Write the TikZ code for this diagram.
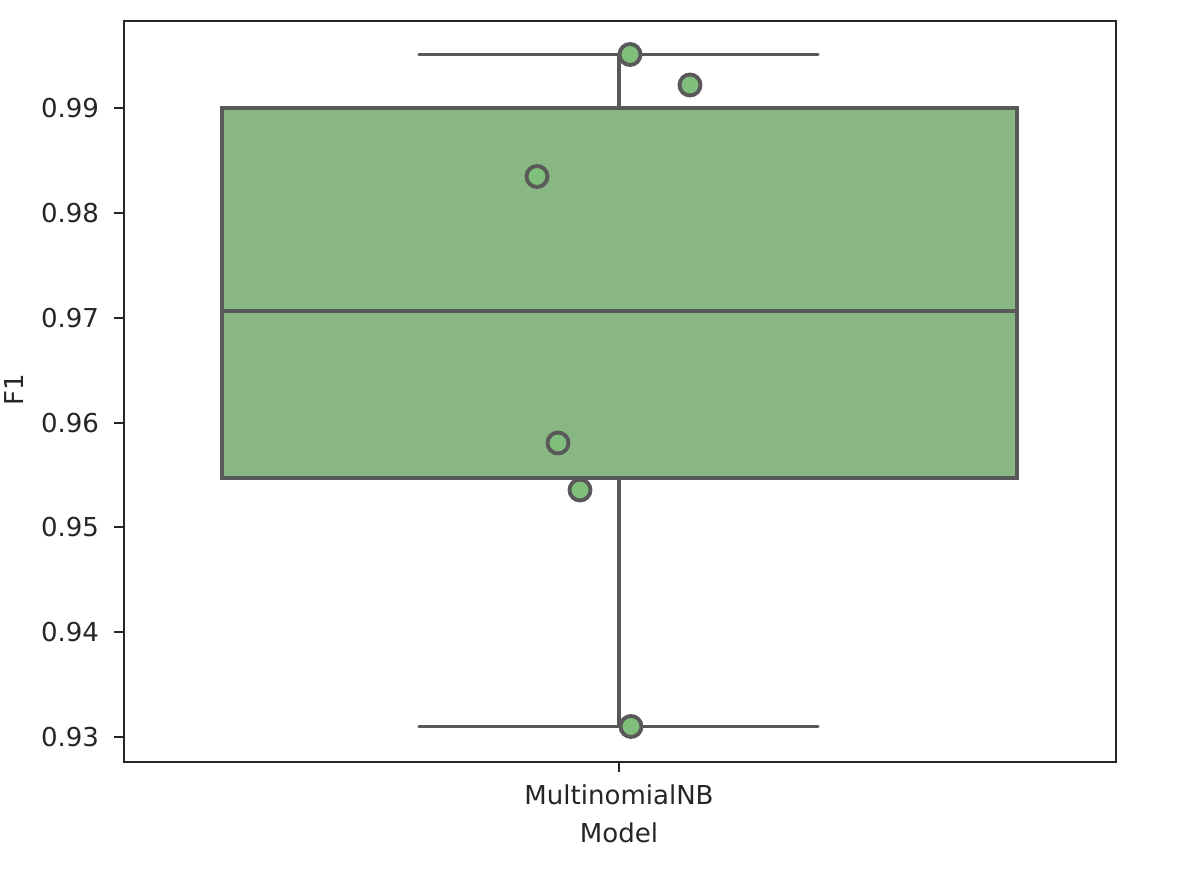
\documentclass[tikz,border=0pt]{standalone}
\usepackage{fontspec}
\setmainfont{DejaVu Sans}
\definecolor{boxgreen}{RGB}{136,183,132}
\definecolor{dotgreen}{RGB}{127,191,123}
\definecolor{edgegray}{RGB}{89,89,89}
\definecolor{axisgray}{RGB}{38,38,38}
\tikzset{
  boxline/.style={draw=edgegray, line width=0.9pt},
  dot/.style={circle, draw=edgegray, fill=dotgreen, line width=1.1pt, minimum size=0.21cm, inner sep=0pt},
  ticklabel/.style={font=\fontsize{7.4}{9}\selectfont, text=axisgray, inner sep=0pt}
}
\begin{document}
\begin{tikzpicture}[x=0.01cm, y=-0.01cm]
      \useasboundingbox (0,0) rectangle (1178,874);
      \def\L{124}
      \def\Rt{1116}
      \def\T{21}
      \def\B{762}
      \coordinate (BL) at (\L,\B);
      \coordinate (TR) at (\Rt,\T);
      \coordinate (Qhi) at (222,108);
      \coordinate (Qlo) at (1017,478);
      \coordinate (MedL) at (222,311);
      \coordinate (MedR) at (1017,311);
      \coordinate (Wtop) at (619,108);
      \coordinate (Wtopend) at (619,54.5);
      \coordinate (Wbot) at (619,478);
      \coordinate (Wbotend) at (619,726.5);
      \coordinate (CapTL) at (419,54.5);
      \coordinate (CapTR) at (818,54.5);
      \coordinate (CapBL) at (419,726.5);
      \coordinate (CapBR) at (818,726.5);

      % BOX AND WHISKERS
      \draw[boxline] (Wtop) -- (Wtopend);
      \draw[boxline] (Wbot) -- (Wbotend);
      \draw[boxline, line cap=round] (CapTL) -- (CapTR);
      \draw[boxline, line cap=round] (CapBL) -- (CapBR);
      \filldraw[boxline, fill=boxgreen] (Qhi) rectangle (Qlo);
      \draw[boxline] (MedL) -- (MedR);

      % POINTS
      \foreach \px/\py [count=\i] in {630/54.5, 690/85, 537/176.5, 558/443, 580/490, 631/726.5}
        \node[dot] (p\i) at (\px,\py) {};

      % AXIS
      \draw[axisgray, line width=0.55pt] (BL) rectangle (TR);
      \foreach \v/\yy [count=\k] in {0.99/108, 0.98/213, 0.97/318, 0.96/423, 0.95/527, 0.94/632, 0.93/737} {
        \coordinate (t\k) at (\L,\yy);
        \draw[axisgray, line width=0.55pt] (t\k) -- ++(-10,0) node[ticklabel, anchor=east, xshift=-0.14cm] {\v};
      }
      \coordinate (xt) at (619,\B);
      \draw[axisgray, line width=0.55pt] (xt) -- ++(0,10) node[ticklabel, anchor=north, yshift=-0.12cm] (xlab) {MultinomialNB};
      \node[ticklabel, anchor=north, yshift=-0.16cm] (xname) at (xlab.south) {Model};
      \node[ticklabel, rotate=90] (yname) at (14,390) {F1};
\end{tikzpicture}
\end{document}
